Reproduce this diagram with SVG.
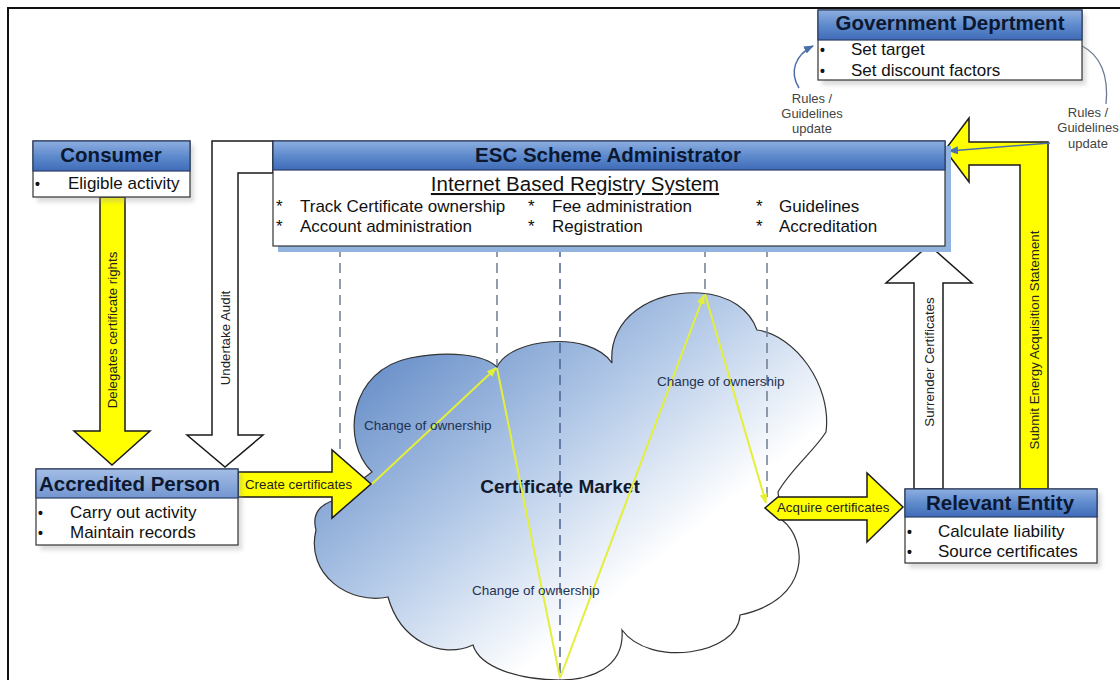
<svg xmlns="http://www.w3.org/2000/svg" width="1120" height="680" viewBox="0 0 1120 680">
<defs>
<style>
text{font-family:"Liberation Sans",Arial,sans-serif;}
.title{font-weight:bold;font-size:20.5px;fill:#0c1830;}
.item{font-size:17px;fill:#111;}
.bul{font-size:14px;font-weight:bold;fill:#111;}
.lbl{font-size:13.3px;fill:#222;}
.sm{font-size:13px;fill:#444;}
.body{fill:#fff;stroke:#333;stroke-width:1.2;}
.hdr{stroke:#2b3f66;stroke-width:1.2;}
.shadow{fill:#9a9a9a;opacity:0.35;filter:url(#blur);}
.yarrow{fill:#ffff00;stroke:#1a1a1a;stroke-width:1.5;stroke-linejoin:miter;}
.warrow{fill:#fff;stroke:#1a1a1a;stroke-width:1.5;}
.dash{stroke:#6f7c8e;stroke-width:1.5;stroke-dasharray:10 6;fill:none;}
.yline{stroke:#e4ef3a;stroke-width:2;fill:none;marker-end:url(#yhead);}
.own{font-size:13.5px;fill:#1e3352;}
</style>
<filter id="blur" x="-10%" y="-10%" width="120%" height="130%"><feGaussianBlur stdDeviation="2"/></filter>
<linearGradient id="hg" x1="0" y1="0" x2="0" y2="1">
<stop offset="0" stop-color="#8eaee0"/><stop offset="0.5" stop-color="#5f8bcd"/><stop offset="1" stop-color="#3f6bb8"/>
</linearGradient>
<linearGradient id="hgl" x1="0" y1="0" x2="0" y2="1">
<stop offset="0" stop-color="#a3bde5"/><stop offset="1" stop-color="#7396d0"/>
</linearGradient>
<linearGradient id="cloudg" x1="0.1" y1="0.1" x2="0.85" y2="0.8">
<stop offset="0" stop-color="#5d86c4"/><stop offset="0.45" stop-color="#b4cae8"/><stop offset="0.8" stop-color="#ffffff"/>
</linearGradient>
<marker id="yhead" markerWidth="10" markerHeight="10" refX="9" refY="5" orient="auto" markerUnits="userSpaceOnUse">
<path d="M0,1 L10,5 L0,9 Z" fill="#e4ef3a"/>
</marker>
<marker id="bhead" markerWidth="10" markerHeight="10" refX="9" refY="5" orient="auto" markerUnits="userSpaceOnUse">
<path d="M0,1 L10,5 L0,9 Z" fill="#4a70aa"/>
</marker>
</defs>
<rect x="0" y="0" width="1120" height="680" fill="#fff"/>
<rect x="8" y="8" width="1140" height="700" fill="none" stroke="#111" stroke-width="2"/>

<g id="cloud-market">
<path d="M372,472 C340,440 350,370 410,358 C450,350 485,355 497,367 C510,338 590,330 612,363 C608,318 652,290 700,293 C730,295 750,310 757,330 C795,335 832,385 826,432 C815,450 790,470 778,492 L782,520 C808,540 812,600 740,615 C738,655 650,668 622,630 C625,668 590,680 560,680 C520,680 480,668 473,645 C440,660 400,640 388,597 C350,605 305,575 316,530 C312,515 318,505 335,500 Z" fill="url(#cloudg)" stroke="#333" stroke-width="1.2"/>
<text x="560" y="493" text-anchor="middle" style="font-weight:bold;font-size:19px;fill:#111a2e">Certificate Market</text>
</g>

<g id="connectors">
<line class="dash" x1="340" y1="247" x2="340" y2="452"/>
<line class="dash" x1="497" y1="247" x2="497" y2="366"/>
<line class="dash" x1="560" y1="247" x2="560" y2="680" style="stroke:#4c6290"/>
<line class="dash" x1="705" y1="247" x2="705" y2="293"/>
<line class="dash" x1="767" y1="247" x2="767" y2="500"/>
<line class="yline" x1="372" y1="484" x2="496" y2="368"/>
<line class="yline" x1="497" y1="368" x2="560" y2="678" style="marker-end:none"/>
<line class="yline" x1="560" y1="678" x2="704" y2="295"/>
<line class="yline" x1="705" y1="294" x2="766" y2="503"/>
<text class="own" x="364" y="430">Change of ownership</text>
<text class="own" x="657" y="386">Change of ownership</text>
<text class="own" x="472" y="595">Change of ownership</text>

<path class="yarrow" d="M100,197 H125 V431 H150 L112,465 L74,431 H100 Z"/>
<text class="lbl" transform="translate(112,330) rotate(-90)" text-anchor="middle" dy="0.35em">Delegates certificate rights</text>

<path class="warrow" d="M273,141 H212 V435 H187 L225,467 L263,435 H238 V173 H273 Z"/>
<text class="lbl" transform="translate(225,338) rotate(-90)" text-anchor="middle" dy="0.35em">Undertake Audit</text>

<path class="yarrow" d="M238,472 H332 V450 L371,484 L332,518 V497 H238 Z"/>
<text class="lbl" x="245" y="489">Create certificates</text>

<path class="yarrow" d="M778,497 H867 V473 L903,507 L867,542 V520 H779 L765,508 Z"/>
<text class="lbl" x="777" y="512">Acquire certificates</text>

<path class="warrow" d="M914,489 V283 H886 L929,245 L972,283 H943 V489 Z"/>
<text class="lbl" transform="translate(929,362) rotate(-90)" text-anchor="middle" dy="0.35em">Surrender Certificates</text>

<path class="yarrow" d="M1020,489 V165 H969 V182 L945,150 L969,118 V142 H1048 V489 Z"/>
<text class="lbl" transform="translate(1034,340) rotate(-90)" text-anchor="middle" dy="0.35em">Submit Energy Acquisition Statement</text>

<path d="M799,88 C789,72 795,55 813,46" fill="none" stroke="#4a70aa" stroke-width="1.5" marker-end="url(#bhead)"/>
<text class="sm" x="812" y="103" text-anchor="middle">Rules /</text>
<text class="sm" x="812" y="118" text-anchor="middle">Guidelines</text>
<text class="sm" x="812" y="133" text-anchor="middle">update</text>
<path d="M1082,46 C1100,55 1109,75 1106,104" fill="none" stroke="#6a7a90" stroke-width="1.3"/>
<text class="sm" x="1088" y="117" text-anchor="middle">Rules /</text>
<text class="sm" x="1088" y="132" text-anchor="middle">Guidelines</text>
<text class="sm" x="1088" y="148" text-anchor="middle">update</text>
<path d="M1050,143 L949,151" fill="none" stroke="#4a70aa" stroke-width="1.5" marker-end="url(#bhead)"/>
</g>

<g id="esc-admin">
<rect x="278" y="146" width="673" height="106" fill="#93b3df"/>
<rect class="body" x="273" y="141" width="672" height="105"/>
<rect class="hdr" x="273" y="141" width="672" height="29" fill="url(#hg)"/>
<text class="title" x="608" y="162" text-anchor="middle">ESC Scheme Administrator</text>
<text x="575" y="191" text-anchor="middle" text-decoration="underline" style="font-size:20.5px;fill:#111">Internet Based Registry System</text>
<text class="item" x="276" y="212">*</text>
<text class="item" x="300" y="212">Track Certificate ownership</text>
<text class="item" x="276" y="232">*</text>
<text class="item" x="300" y="232">Account administration</text>
<text class="item" x="528" y="212">*</text>
<text class="item" x="552" y="212">Fee administration</text>
<text class="item" x="528" y="232">*</text>
<text class="item" x="552" y="232">Registration</text>
<text class="item" x="756" y="212">*</text>
<text class="item" x="779" y="212">Guidelines</text>
<text class="item" x="756" y="232">*</text>
<text class="item" x="779" y="232">Accreditation</text>
</g>

<g id="consumer">
<rect class="shadow" x="37" y="145" width="157" height="57"/>
<rect class="body" x="33" y="141" width="157" height="56"/>
<rect class="hdr" x="33" y="141" width="157" height="30" fill="url(#hg)"/>
<text class="title" x="111" y="162" text-anchor="middle">Consumer</text>
<text class="bul" x="35" y="189">•</text>
<text class="item" x="68" y="189">Eligible activity</text>
</g>

<g id="government">
<rect class="shadow" x="822" y="14" width="264" height="71"/>
<rect class="body" x="818" y="10" width="264" height="70"/>
<rect class="hdr" x="818" y="10" width="264" height="30" fill="url(#hg)"/>
<text class="title" x="950" y="30" text-anchor="middle">Government Deprtment</text>
<text class="bul" x="820" y="55">•</text>
<text class="item" x="851" y="55">Set target</text>
<text class="bul" x="820" y="76">•</text>
<text class="item" x="851" y="76">Set discount factors</text>
</g>

<g id="accredited-person">
<rect class="shadow" x="40" y="473" width="202" height="77"/>
<rect class="body" x="36" y="469" width="202" height="76"/>
<rect class="hdr" x="36" y="469" width="202" height="29" fill="url(#hgl)"/>
<text class="title" x="39" y="491">Accredited Person</text>
<text class="bul" x="38" y="518">•</text>
<text class="item" x="70" y="518">Carry out activity</text>
<text class="bul" x="38" y="538">•</text>
<text class="item" x="70" y="538">Maintain records</text>
</g>

<g id="relevant-entity">
<rect class="shadow" x="909" y="493" width="192" height="75"/>
<rect class="body" x="905" y="489" width="192" height="74"/>
<rect class="hdr" x="905" y="489" width="192" height="28" fill="url(#hg)"/>
<text class="title" x="1000" y="510" text-anchor="middle">Relevant Entity</text>
<text class="bul" x="907" y="537">•</text>
<text class="item" x="938" y="537">Calculate liability</text>
<text class="bul" x="907" y="557">•</text>
<text class="item" x="938" y="557">Source certificates</text>
</g>
</svg>
